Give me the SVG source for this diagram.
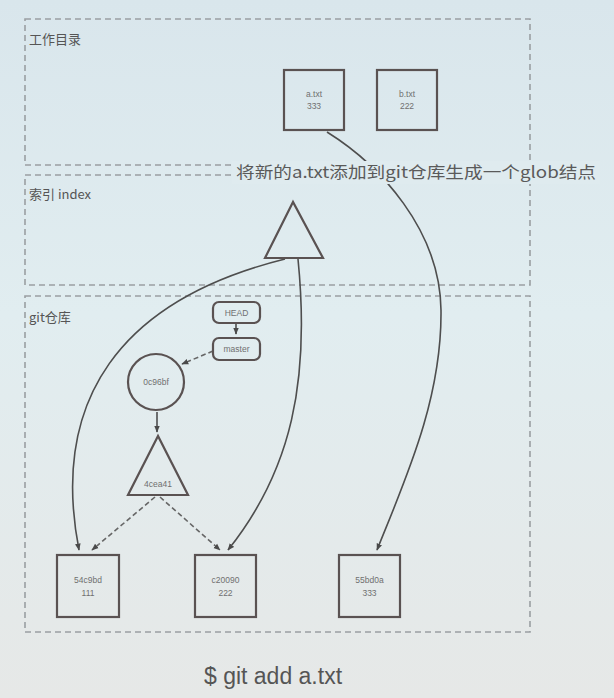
<svg xmlns="http://www.w3.org/2000/svg" width="614" height="698" viewBox="0 0 614 698">
<defs>
<linearGradient id="bg" x1="0" y1="0" x2="0" y2="1">
<stop offset="0" stop-color="#d9e6ec"/>
<stop offset="0.45" stop-color="#e1edf0"/>
<stop offset="1" stop-color="#e6e8e7"/>
</linearGradient>
<marker id="ah" viewBox="0 0 10 10" refX="9" refY="5" markerWidth="7" markerHeight="7" orient="auto-start-reverse" markerUnits="userSpaceOnUse">
<path d="M0,1 L10,5 L0,9 z" fill="#4a4a4a"/>
</marker>
<style>
.region{fill:none;stroke:#9a9fa2;stroke-width:1.6;stroke-dasharray:6 4}
.rlabel{font-family:"Noto Sans CJK SC","Liberation Sans",sans-serif;font-size:13px;fill:#555}
.box{fill:none;stroke:#5a5252;stroke-width:2.2}
.t{font-family:"Liberation Sans","Noto Sans",sans-serif;font-size:8.5px;fill:#707070;text-anchor:middle}
.edge{fill:none;stroke:#4e4e4e;stroke-width:1.6}
.dash{fill:none;stroke:#666;stroke-width:1.6;stroke-dasharray:5 3}
</style>
</defs>
<rect width="614" height="698" fill="url(#bg)"/>

<g id="regions">
<rect class="region" x="25" y="19" width="505" height="146"/>
<rect class="region" x="25" y="175" width="505" height="110"/>
<rect class="region" x="25" y="296" width="505" height="336"/>
<text class="rlabel" x="29" y="44">工作目录</text>
<text class="rlabel" x="29" y="199">索引 index</text>
<text class="rlabel" x="29" y="322">git仓库</text>
</g>

<g id="connectors">
<path class="edge" d="M327,132 C380,165 440,230 441,310 C442,400 405,480 377,550" marker-end="url(#ah)"/>
<path class="edge" d="M285,259 C120,300 50,400 79,550" marker-end="url(#ah)"/>
<path class="edge" d="M298,259 C310,380 292,470 228,550" marker-end="url(#ah)"/>
<line class="edge" x1="236" y1="323" x2="236" y2="334" marker-end="url(#ah)"/>
<line class="dash" x1="213" y1="351" x2="182" y2="364" marker-end="url(#ah)"/>
<line class="edge" x1="157" y1="412" x2="157" y2="432" marker-end="url(#ah)"/>
<line class="dash" x1="155" y1="497" x2="92" y2="550" marker-end="url(#ah)"/>
<line class="dash" x1="160" y1="497" x2="220" y2="550" marker-end="url(#ah)"/>
<rect x="232" y="161" width="368" height="23" fill="#dfebef"/>
<text x="236" y="178" font-family="Noto Sans CJK SC, Liberation Sans, sans-serif" font-size="16" fill="#5a5a5a" textLength="360" lengthAdjust="spacingAndGlyphs">将新的a.txt添加到git仓库生成一个glob结点</text>
</g>

<g id="a_txt">
<rect class="box" x="284" y="70" width="60" height="60"/>
<text class="t" x="314" y="97">a.txt</text>
<text class="t" x="314" y="109">333</text>
</g>
<g id="b_txt">
<rect class="box" x="377" y="70" width="60" height="60"/>
<text class="t" x="407" y="97">b.txt</text>
<text class="t" x="407" y="109">222</text>
</g>
<g id="index_tree">
<polygon class="box" points="293,202 265,258 323,258"/>
</g>
<g id="HEAD">
<rect class="box" x="213" y="302" width="47" height="21" rx="6"/>
<text class="t" x="236.5" y="315.5">HEAD</text>
</g>
<g id="master">
<rect class="box" x="213" y="338" width="47" height="22" rx="6"/>
<text class="t" x="236.5" y="352">master</text>
</g>
<g id="commit">
<circle class="box" cx="156" cy="382" r="28"/>
<text class="t" x="156" y="385">0c96bf</text>
</g>
<g id="tree">
<polygon class="box" points="158,436 128,495 188,495"/>
<text class="t" x="158" y="487">4cea41</text>
</g>
<g id="blob_54c9bd">
<rect class="box" x="57" y="555" width="62" height="62"/>
<text class="t" x="88" y="583">54c9bd</text>
<text class="t" x="88" y="596">111</text>
</g>
<g id="blob_c20090">
<rect class="box" x="195" y="555" width="61" height="62"/>
<text class="t" x="225.5" y="583">c20090</text>
<text class="t" x="225.5" y="596">222</text>
</g>
<g id="blob_55bd0a">
<rect class="box" x="339" y="555" width="61" height="62"/>
<text class="t" x="369.5" y="583">55bd0a</text>
<text class="t" x="369.5" y="596">333</text>
</g>

<text x="273" y="684" font-family="Liberation Sans, Arial, sans-serif" font-size="23" fill="#555" text-anchor="middle">$ git add a.txt</text>
</svg>
